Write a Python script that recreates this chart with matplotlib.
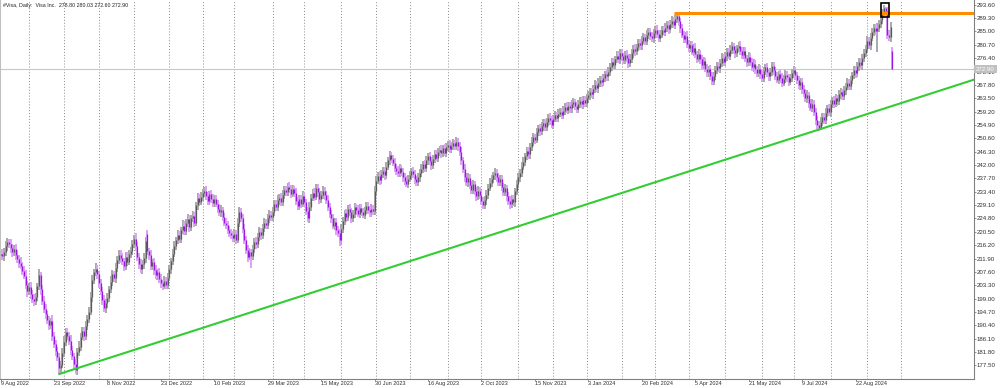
import numpy as np
import pandas as pd
import matplotlib
matplotlib.use('Agg')
import matplotlib.pyplot as plt
import matplotlib.transforms as mtransforms
from matplotlib.patches import Rectangle

# daily bars, 9 Aug 2022 .. 24 Sep 2024
opens = [
    213.0, 213.5, 212.6, 214.0, 215.8, 217.2, 216.5, 215.2, 214.0, 215.0,
    213.1, 211.8, 210.5, 209.6, 208.0, 206.3, 203.5, 201.4, 202.8, 200.5,
    199.0, 198.2, 199.6, 203.0, 206.5, 202.0, 198.4, 195.6, 194.0, 192.2,
    190.5, 191.8, 187.0, 184.5, 182.0, 180.3, 176.6, 177.8, 181.5, 185.0,
    188.2, 187.0, 185.5, 182.4, 180.5, 178.0, 176.2, 181.8, 183.5, 186.8,
    188.5, 187.0, 190.2, 192.5, 194.8, 199.5, 205.0, 207.5, 208.6, 206.8,
    204.0, 201.5, 198.5, 196.0, 197.5, 199.2, 202.0, 204.5, 206.8, 205.5,
    209.0, 211.5, 213.2, 212.0, 211.0, 209.5, 212.5, 210.8, 213.5, 214.2,
    216.5, 218.3, 215.8, 212.5, 210.2, 208.4, 210.0, 212.0, 219.8, 214.2,
    213.0, 209.5, 210.8, 208.2, 206.5, 207.5, 205.2, 204.0, 203.2, 204.8,
    203.5, 205.8, 208.4, 211.0, 213.5, 216.0, 217.8, 219.5, 218.2, 221.0,
    222.5, 220.8, 223.4, 224.6, 222.0, 224.8, 225.5, 223.5, 229.0, 231.5,
    230.2, 231.8, 233.0, 233.8, 232.0, 230.5, 232.6, 231.2, 229.8, 231.0,
    229.5, 228.0, 226.8, 227.5, 225.2, 223.5, 222.8, 221.0, 220.2, 219.4,
    218.5, 219.8, 218.0, 223.5, 226.8, 225.0, 221.5, 218.0, 214.8, 212.5,
    214.0, 212.8, 215.0, 217.2, 216.5, 218.8, 220.5, 219.4, 221.8, 223.5,
    222.6, 224.8, 226.0, 225.2, 227.0, 229.5, 228.4, 230.6, 231.5, 230.2,
    232.5, 234.0, 233.2, 235.0, 234.4, 232.8, 234.2, 233.0, 230.5, 228.8,
    231.2, 229.5, 232.0, 230.0, 227.2, 225.0, 228.5, 231.5, 233.0, 231.8,
    234.5, 233.2, 231.0, 232.5, 233.8, 232.2, 230.8, 228.5, 226.2, 224.8,
    222.5, 223.8, 221.0, 220.2, 218.0, 221.5, 224.0, 226.5, 225.2, 228.0,
    227.0, 224.8, 226.2, 228.5, 227.5, 226.4, 228.2, 227.0, 226.0, 227.5,
    228.8, 227.6, 226.8, 228.0, 227.2, 233.5, 237.0, 238.5, 237.2, 239.0,
    240.2, 238.8, 241.5, 243.5, 245.2, 244.0, 242.8, 241.0, 240.2, 239.5,
    241.0, 239.8, 238.2, 237.0, 236.0, 237.5, 238.8, 240.0, 239.0, 237.4,
    236.5, 238.0, 239.6, 240.8, 242.2, 241.0, 243.5, 244.8, 243.2, 242.0,
    244.0, 245.5, 244.4, 246.2, 247.0, 245.8, 247.5, 246.0, 247.8, 248.5,
    247.2, 248.0, 249.0, 248.2, 249.5, 248.0, 246.2, 243.5, 240.8, 238.0,
    236.5, 237.8, 235.5, 234.0, 235.8, 233.5, 232.0, 233.8, 232.5, 230.5,
    229.2, 230.8, 232.5, 234.6, 236.2, 237.5, 238.8, 239.5, 238.0, 236.4,
    237.5, 235.0, 233.2, 234.5, 232.0, 230.5, 229.4, 231.0, 230.0, 233.5,
    235.8, 238.0, 239.5, 241.5, 243.0, 244.8, 246.5, 245.5, 247.8, 249.5,
    251.0, 250.2, 252.5, 253.8, 252.8, 254.5, 255.5, 254.2, 256.0, 257.2,
    256.5, 255.0, 256.8, 258.0, 257.2, 258.5, 259.0, 258.2, 259.5, 260.8,
    259.8, 261.0, 260.2, 261.5, 262.2, 261.0, 260.0, 261.8, 262.5, 261.5,
    263.0, 262.0, 263.5, 264.5, 265.5, 264.8, 266.5, 267.8, 266.8, 268.5,
    269.5, 268.6, 270.0, 271.2, 270.5, 272.0, 273.5, 275.0, 274.2, 276.0,
    277.2, 276.0, 278.0, 277.0, 275.8, 277.5, 276.5, 274.8, 276.2, 278.0,
    279.5, 278.6, 280.0, 281.2, 280.5, 282.0, 283.2, 282.0, 283.8, 284.8,
    283.5, 282.8, 284.5, 285.6, 284.2, 283.0, 284.0, 285.5, 284.8, 286.2,
    287.0, 285.8, 287.5, 288.4, 287.2, 289.0, 290.0, 288.2, 286.0, 284.0,
    282.5, 283.6, 281.0, 279.8, 280.6, 278.5, 279.8, 277.6, 276.2, 277.8,
    276.0, 274.2, 275.5, 273.0, 271.8, 272.8, 270.5, 269.2, 270.8, 272.5,
    274.0, 273.2, 274.8, 276.5, 275.2, 277.0, 278.4, 277.2, 279.0, 280.2,
    279.0, 278.0, 279.6, 280.4, 278.8, 277.5, 278.6, 276.4, 275.0, 276.8,
    275.2, 273.5, 274.6, 272.8, 271.5, 273.0, 271.2, 270.0, 272.2, 273.5,
    271.8, 270.5, 272.0, 273.8, 272.5, 270.8, 269.5, 271.2, 270.0, 268.5,
    269.8, 271.0, 270.2, 268.8, 270.0, 271.5, 272.5, 271.0, 269.4, 267.8,
    268.6, 266.5, 265.2, 263.5, 264.5, 262.0, 260.5, 261.8, 259.0, 256.5,
    255.0, 254.0, 256.0, 257.5, 256.5, 258.8, 260.2, 259.0, 261.5, 262.8,
    261.8, 263.5, 262.5, 264.8, 265.5, 264.2, 266.0, 267.2, 268.5, 267.5,
    269.5, 271.0, 272.5, 271.5, 273.8, 275.0, 274.2, 276.5, 278.0, 279.5,
    282.0, 280.5, 283.0, 284.8, 286.0, 285.0, 286.2, 287.5, 288.8, 291.0,
    292.5, 291.5, 284.0, 283.2, 278.8,
]

closes = [
    213.5, 212.6, 214.0, 215.8, 217.2, 216.5, 215.2, 214.0, 215.0, 213.1,
    211.8, 210.5, 209.6, 208.0, 206.3, 203.5, 201.4, 202.8, 200.5, 199.0,
    198.2, 199.6, 203.0, 206.5, 202.0, 198.4, 195.6, 194.0, 192.2, 190.5,
    191.8, 187.0, 184.5, 182.0, 180.3, 176.6, 177.8, 181.5, 185.0, 188.2,
    187.0, 185.5, 182.4, 180.5, 178.0, 176.2, 181.8, 183.5, 186.8, 188.5,
    187.0, 190.2, 192.5, 194.8, 199.5, 205.0, 207.5, 208.6, 206.8, 204.0,
    201.5, 198.5, 196.0, 197.5, 199.2, 202.0, 204.5, 206.8, 205.5, 209.0,
    211.5, 213.2, 212.0, 211.0, 209.5, 212.5, 210.8, 213.5, 214.2, 216.5,
    218.3, 215.8, 212.5, 210.2, 208.4, 210.0, 212.0, 217.5, 214.2, 213.0,
    209.5, 210.8, 208.2, 206.5, 207.5, 205.2, 204.0, 203.2, 204.8, 203.5,
    205.8, 208.4, 211.0, 213.5, 216.0, 217.8, 219.5, 218.2, 221.0, 222.5,
    220.8, 223.4, 224.6, 222.0, 224.8, 225.5, 223.5, 229.0, 231.5, 230.2,
    231.8, 233.0, 233.8, 232.0, 230.5, 232.6, 231.2, 229.8, 231.0, 229.5,
    228.0, 226.8, 227.5, 225.2, 223.5, 222.8, 221.0, 220.2, 219.4, 218.5,
    219.8, 218.0, 223.5, 226.8, 225.0, 221.5, 218.0, 214.8, 212.5, 214.0,
    212.8, 215.0, 217.2, 216.5, 218.8, 220.5, 219.4, 221.8, 223.5, 222.6,
    224.8, 226.0, 225.2, 227.0, 229.5, 228.4, 230.6, 231.5, 230.2, 232.5,
    234.0, 233.2, 235.0, 234.4, 232.8, 234.2, 233.0, 230.5, 228.8, 231.2,
    229.5, 232.0, 230.0, 227.2, 225.0, 228.5, 231.5, 233.0, 231.8, 234.5,
    233.2, 231.0, 232.5, 233.8, 232.2, 230.8, 228.5, 226.2, 224.8, 222.5,
    223.8, 221.0, 220.2, 218.0, 221.5, 224.0, 226.5, 225.2, 228.0, 227.0,
    224.8, 226.2, 228.5, 227.5, 226.4, 228.2, 227.0, 226.0, 227.5, 228.8,
    227.6, 226.8, 228.0, 227.2, 233.5, 237.0, 238.5, 237.2, 239.0, 240.2,
    238.8, 241.5, 243.5, 245.2, 244.0, 242.8, 241.0, 240.2, 239.5, 241.0,
    239.8, 238.2, 237.0, 236.0, 237.5, 238.8, 240.0, 239.0, 237.4, 236.5,
    238.0, 239.6, 240.8, 242.2, 241.0, 243.5, 244.8, 243.2, 242.0, 244.0,
    245.5, 244.4, 246.2, 247.0, 245.8, 247.5, 246.0, 247.8, 248.5, 247.2,
    248.0, 249.0, 248.2, 249.5, 248.0, 246.2, 243.5, 240.8, 238.0, 236.5,
    237.8, 235.5, 234.0, 235.8, 233.5, 232.0, 233.8, 232.5, 230.5, 229.2,
    230.8, 232.5, 234.6, 236.2, 237.5, 238.8, 239.5, 238.0, 236.4, 237.5,
    235.0, 233.2, 234.5, 232.0, 230.5, 229.4, 231.0, 230.0, 233.5, 235.8,
    238.0, 239.5, 241.5, 243.0, 244.8, 246.5, 245.5, 247.8, 249.5, 251.0,
    250.2, 252.5, 253.8, 252.8, 254.5, 255.5, 254.2, 256.0, 257.2, 256.5,
    255.0, 256.8, 258.0, 257.2, 258.5, 259.0, 258.2, 259.5, 260.8, 259.8,
    261.0, 260.2, 261.5, 262.2, 261.0, 260.0, 261.8, 262.5, 261.5, 263.0,
    262.0, 263.5, 264.5, 265.5, 264.8, 266.5, 267.8, 266.8, 268.5, 269.5,
    268.6, 270.0, 271.2, 270.5, 272.0, 273.5, 275.0, 274.2, 276.0, 277.2,
    276.0, 278.0, 277.0, 275.8, 277.5, 276.5, 274.8, 276.2, 278.0, 279.5,
    278.6, 280.0, 281.2, 280.5, 282.0, 283.2, 282.0, 283.8, 284.8, 283.5,
    282.8, 284.5, 285.6, 284.2, 283.0, 284.0, 285.5, 284.8, 286.2, 287.0,
    285.8, 287.5, 288.4, 287.2, 289.0, 290.0, 288.2, 286.0, 284.0, 282.5,
    283.6, 281.0, 279.8, 280.6, 278.5, 279.8, 277.6, 276.2, 277.8, 276.0,
    274.2, 275.5, 273.0, 271.8, 272.8, 270.5, 269.2, 270.8, 272.5, 274.0,
    273.2, 274.8, 276.5, 275.2, 277.0, 278.4, 277.2, 279.0, 280.2, 279.0,
    278.0, 279.6, 280.4, 278.8, 277.5, 278.6, 276.4, 275.0, 276.8, 275.2,
    273.5, 274.6, 272.8, 271.5, 273.0, 271.2, 270.0, 272.2, 273.5, 271.8,
    270.5, 272.0, 273.8, 272.5, 270.8, 269.5, 271.2, 270.0, 268.5, 269.8,
    271.0, 270.2, 268.8, 270.0, 271.5, 272.5, 271.0, 269.4, 267.8, 268.6,
    266.5, 265.2, 263.5, 264.5, 262.0, 260.5, 261.8, 259.0, 256.5, 255.0,
    254.0, 256.0, 257.5, 256.5, 258.8, 260.2, 259.0, 261.5, 262.8, 261.8,
    263.5, 262.5, 264.8, 265.5, 264.2, 266.0, 267.2, 268.5, 267.5, 269.5,
    271.0, 272.5, 271.5, 273.8, 275.0, 274.2, 276.5, 278.0, 279.5, 282.0,
    280.5, 283.0, 284.8, 286.0, 285.0, 286.2, 287.5, 288.8, 291.0, 292.5,
    291.5, 284.0, 283.2, 286.5, 272.9,
]

# wick lengths above the body top / below the body bottom
upper_wick = [
    1.2, 1.5, 1.3, 1.7, 1.3, 1.1, 1.6, 1.4, 1.2, 1.6,
    1.4, 1.1, 1.8, 1.2, 1.5, 2.0, 1.1, 1.3, 1.6, 1.2,
    1.6, 1.3, 1.2, 1.9, 1.1, 1.4, 1.5, 1.7, 1.0, 1.3,
    1.1, 1.8, 1.4, 1.2, 1.6, 1.3, 1.1, 1.5, 1.9, 1.4,
    1.5, 1.2, 1.7, 1.3, 1.1, 1.6, 1.4, 1.8, 1.2, 1.5,
    1.3, 1.6, 1.1, 1.4, 1.7, 1.5, 1.2, 1.9, 1.3, 1.1,
    1.4, 1.2, 1.6, 1.3, 1.5, 1.1, 1.8, 1.4, 1.2, 1.6,
    1.2, 1.5, 1.3, 1.7, 1.1, 1.4, 1.6, 1.2, 1.5, 1.3,
    1.2, 1.7, 1.4, 1.1, 1.5, 1.3, 1.6, 1.4, 1.3, 1.2,
    1.5, 1.1, 1.4, 1.6, 1.2, 1.3, 1.7, 1.1, 1.4, 1.2,
    1.3, 1.5, 1.2, 1.4, 1.6, 1.1, 1.5, 1.3, 1.2, 1.7,
    1.4, 1.2, 1.5, 1.3, 1.1, 1.6, 1.4, 1.2, 1.5, 1.3,
    1.6, 1.3, 1.2, 1.5, 1.4, 1.1, 1.3, 1.6, 1.2, 1.4,
    1.2, 1.4, 1.6, 1.1, 1.3, 1.5, 1.2, 1.4, 1.1, 1.3,
    1.5, 1.2, 1.4, 1.7, 1.3, 1.1, 1.5, 1.2, 1.4, 1.3,
    1.1, 1.4, 1.3, 1.5, 1.2, 1.6, 1.3, 1.1, 1.4, 1.2,
    1.3, 1.5, 1.1, 1.4, 1.2, 1.3, 1.6, 1.2, 1.4, 1.5,
    1.4, 1.2, 1.3, 1.5, 1.1, 1.4, 1.2, 1.6, 1.3, 1.1,
    1.2, 1.5, 1.4, 1.1, 1.3, 1.6, 1.2, 1.4, 1.5, 1.3,
    1.5, 1.3, 1.2, 1.4, 1.1, 1.3, 1.5, 1.2, 1.4, 1.6,
    1.3, 1.1, 1.4, 1.2, 1.5, 1.3, 1.1, 1.4, 1.2, 1.5,
    1.2, 1.4, 1.3, 1.1, 1.5, 1.2, 1.4, 1.3, 1.1, 1.4,
    1.4, 1.2, 1.5, 1.3, 1.6, 1.4, 1.2, 1.5, 1.3, 1.2,
    1.3, 1.5, 1.2, 1.4, 1.1, 1.3, 1.5, 1.2, 1.4, 1.3,
    1.1, 1.4, 1.3, 1.5, 1.2, 1.4, 1.1, 1.3, 1.5, 1.2,
    1.4, 1.2, 1.5, 1.1, 1.3, 1.4, 1.2, 1.5, 1.3, 1.1,
    1.2, 1.3, 1.4, 1.2, 1.5, 1.1, 1.3, 1.4, 1.2, 1.5,
    1.3, 1.5, 1.1, 1.4, 1.2, 1.3, 1.5, 1.2, 1.4, 1.3,
    1.5, 1.2, 1.4, 1.3, 1.1, 1.5, 1.3, 1.2, 1.4, 1.1,
    1.2, 1.4, 1.3, 1.5, 1.2, 1.1, 1.4, 1.3, 1.5, 1.2,
    1.4, 1.1, 1.5, 1.2, 1.3, 1.4, 1.2, 1.5, 1.1, 1.3,
    1.3, 1.2, 1.4, 1.5, 1.1, 1.3, 1.4, 1.2, 1.5, 1.2,
    1.1, 1.4, 1.2, 1.3, 1.5, 1.2, 1.4, 1.1, 1.3, 1.4,
    1.2, 1.3, 1.5, 1.1, 1.4, 1.2, 1.3, 1.5, 1.2, 1.4,
    1.4, 1.2, 1.3, 1.5, 1.1, 1.4, 1.2, 1.3, 1.5, 1.1,
    1.3, 1.5, 1.2, 1.4, 1.3, 1.1, 1.5, 1.2, 1.4, 1.3,
    1.2, 1.4, 1.1, 1.3, 1.5, 1.2, 1.4, 1.3, 1.1, 1.5,
    1.5, 1.2, 1.4, 1.1, 1.3, 1.5, 1.2, 1.4, 1.3, 1.2,
    1.3, 1.1, 1.5, 1.2, 1.4, 1.3, 1.1, 1.5, 1.2, 1.4,
    1.2, 1.4, 1.3, 1.5, 1.1, 1.3, 1.4, 1.2, 1.5, 1.3,
    1.4, 1.2, 1.5, 1.3, 1.2, 0.8, 0.5, 1.1, 1.5, 1.2,
    1.1, 1.5, 1.2, 1.4, 1.3, 1.1, 1.5, 1.2, 1.4, 1.3,
    1.5, 1.3, 1.1, 1.4, 1.2, 1.5, 1.3, 1.2, 1.4, 1.1,
    1.2, 1.4, 1.5, 1.1, 1.3, 1.4, 1.2, 1.5, 1.3, 1.2,
    1.4, 1.1, 1.3, 1.5, 1.2, 1.3, 1.4, 1.1, 1.5, 1.2,
    1.3, 1.5, 1.2, 1.1, 1.4, 1.2, 1.5, 1.3, 1.1, 1.4,
    1.2, 1.3, 1.4, 1.5, 1.1, 1.3, 1.2, 1.4, 1.5, 1.2,
    1.5, 1.2, 1.1, 1.4, 1.3, 1.5, 1.2, 1.1, 1.4, 1.3,
    1.3, 1.4, 1.2, 1.5, 1.1, 1.3, 1.4, 1.2, 1.5, 1.3,
    1.2, 1.5, 1.3, 1.1, 1.4, 1.2, 1.5, 1.3, 1.2, 1.4,
    1.4, 1.2, 1.5, 1.3, 1.1, 1.4, 1.2, 1.5, 1.3, 1.2,
    1.1, 1.4, 1.3, 1.2, 1.5, 1.3, 1.1, 1.4, 1.2, 1.5,
    1.3, 1.5, 1.2, 1.4, 1.3, 1.5, 1.2, 1.4, 1.3, 1.0,
    0.3, 1.2, 1.3, 1.4, 1.23,
]

lower_wick = [
    1.4, 1.2, 1.6, 1.3, 1.5, 1.1, 1.4, 1.7, 1.2, 1.5,
    1.3, 1.6, 1.2, 1.5, 1.1, 1.4, 1.8, 1.2, 1.5, 1.3,
    1.5, 1.2, 1.4, 1.1, 1.7, 1.3, 1.2, 1.6, 1.4, 1.5,
    1.2, 1.5, 1.3, 1.6, 1.4, 2.0, 1.5, 1.2, 1.4, 1.3,
    1.4, 1.3, 1.5, 1.2, 1.6, 1.4, 1.8, 1.3, 1.5, 1.2,
    1.5, 1.2, 1.4, 1.3, 1.1, 1.5, 1.3, 1.2, 1.4, 1.6,
    1.3, 1.5, 1.2, 1.6, 1.4, 1.2, 1.3, 1.5, 1.1, 1.4,
    1.4, 1.2, 1.5, 1.3, 1.6, 1.2, 1.4, 1.1, 1.5, 1.3,
    1.2, 1.4, 1.3, 1.5, 1.2, 1.6, 1.3, 1.4, 1.2, 1.5,
    1.4, 1.3, 1.5, 1.2, 1.4, 1.1, 1.5, 1.3, 1.2, 1.4,
    1.5, 1.2, 1.4, 1.3, 1.1, 1.5, 1.2, 1.4, 1.3, 1.2,
    1.3, 1.4, 1.2, 1.5, 1.3, 1.1, 1.4, 1.2, 1.5, 1.3,
    1.2, 1.5, 1.3, 1.1, 1.4, 1.3, 1.5, 1.2, 1.4, 1.1,
    1.4, 1.2, 1.5, 1.3, 1.2, 1.4, 1.1, 1.5, 1.3, 1.4,
    1.3, 1.5, 1.1, 1.4, 1.2, 1.5, 1.3, 1.4, 1.6, 1.2,
    4.0, 1.4, 1.2, 1.5, 1.3, 1.1, 1.4, 1.2, 1.5, 1.3,
    1.2, 1.4, 1.3, 1.1, 1.5, 1.3, 1.2, 1.4, 1.3, 1.5,
    1.4, 1.3, 1.2, 1.5, 1.4, 1.1, 1.3, 1.5, 1.2, 1.4,
    1.3, 1.1, 1.5, 1.4, 1.2, 1.5, 1.3, 1.1, 1.4, 1.2,
    1.5, 1.4, 1.2, 1.3, 1.5, 1.2, 1.4, 1.3, 1.5, 1.2,
    1.3, 1.5, 1.2, 2.0, 1.4, 1.3, 1.2, 1.5, 1.1, 1.4,
    1.4, 1.2, 1.3, 1.5, 1.1, 1.4, 1.3, 1.2, 1.5, 1.3,
    1.2, 1.4, 1.5, 1.3, 1.2, 1.4, 1.1, 1.5, 1.3, 1.2,
    1.5, 1.3, 1.1, 1.4, 1.5, 1.2, 1.3, 1.4, 1.2, 1.5,
    1.3, 1.5, 1.4, 1.2, 1.3, 1.1, 1.5, 1.2, 1.4, 1.3,
    1.2, 1.4, 1.3, 1.5, 1.1, 1.3, 1.4, 1.2, 1.5, 1.4,
    1.4, 1.2, 1.5, 1.3, 1.4, 1.2, 1.1, 1.5, 1.3, 1.2,
    1.3, 1.1, 1.4, 1.2, 1.5, 1.3, 1.4, 1.2, 1.5, 1.4,
    1.5, 1.3, 1.2, 1.4, 1.3, 1.5, 1.1, 1.4, 1.2, 1.5,
    1.2, 1.5, 1.4, 1.1, 1.3, 1.2, 1.5, 1.4, 1.3, 1.2,
    1.4, 1.3, 1.2, 1.5, 1.4, 1.5, 1.3, 1.1, 1.4, 1.2,
    1.3, 1.4, 1.5, 1.2, 1.3, 1.1, 1.4, 1.5, 1.2, 1.3,
    1.5, 1.2, 1.3, 1.4, 1.1, 1.5, 1.2, 1.3, 1.4, 1.5,
    1.2, 1.4, 1.1, 1.5, 1.3, 1.2, 1.4, 1.3, 1.5, 1.2,
    1.4, 1.5, 1.3, 1.2, 1.4, 1.3, 1.1, 1.5, 1.2, 1.4,
    1.3, 1.2, 1.4, 1.5, 1.1, 1.4, 1.3, 1.2, 1.5, 1.3,
    1.5, 1.3, 1.2, 1.4, 1.3, 1.5, 1.1, 1.4, 1.2, 1.3,
    1.2, 1.4, 1.5, 1.3, 1.2, 1.4, 1.5, 1.1, 1.3, 1.4,
    1.4, 1.2, 1.3, 1.5, 1.4, 1.1, 1.3, 1.5, 1.2, 1.4,
    1.3, 1.5, 1.2, 1.4, 1.3, 1.5, 1.2, 1.1, 1.4, 1.3,
    1.5, 1.3, 1.4, 1.2, 1.5, 1.3, 1.4, 1.5, 1.2, 1.3,
    1.2, 1.4, 1.5, 1.3, 1.1, 1.4, 1.3, 1.5, 1.2, 1.4,
    1.4, 1.3, 1.2, 1.5, 1.4, 1.2, 1.5, 1.3, 1.4, 1.2,
    1.3, 1.5, 1.4, 1.2, 1.3, 1.4, 1.1, 1.5, 1.3, 1.4,
    1.5, 1.2, 1.3, 1.4, 1.5, 1.3, 1.2, 1.4, 1.1, 1.3,
    1.2, 1.4, 1.5, 1.3, 1.2, 1.5, 1.4, 1.3, 1.2, 1.4,
    1.4, 1.3, 1.2, 1.5, 1.4, 1.1, 1.3, 1.5, 1.4, 1.2,
    1.3, 1.5, 1.4, 1.2, 1.3, 1.4, 1.5, 1.2, 1.3, 1.5,
    1.5, 1.2, 1.3, 1.4, 1.5, 1.2, 1.4, 1.3, 1.5, 1.4,
    1.0, 0.7, 1.5, 1.2, 1.4, 1.3, 1.2, 1.5, 1.3, 1.4,
    1.2, 1.4, 1.3, 1.5, 1.2, 1.4, 1.3, 1.1, 1.5, 1.3,
    1.4, 1.2, 1.5, 1.3, 1.4, 1.2, 1.5, 1.3, 1.2, 1.4,
    1.3, 1.5, 1.2, 1.4, 1.3, 6.6, 1.4, 1.3, 1.5, 1.2,
    1.4, 1.3, 1.2, 1.5, 0.3,
]

# exchange holidays, used to rebuild the trading-day calendar
holidays = ['2022-09-05', '2022-11-24', '2022-12-26', '2023-01-02', '2023-01-16',
            '2023-02-20', '2023-04-07', '2023-05-29', '2023-06-19', '2023-07-04',
            '2023-09-04', '2023-11-23', '2023-12-25', '2024-01-01', '2024-01-15',
            '2024-02-19', '2024-03-29', '2024-05-27', '2024-06-19', '2024-07-04',
            '2024-09-02']

last_price = 272.90
resistance = 290.8
resistance_from = 403
trend_x = [35.2, 582.6]
trend_y = [174.76, 269.43]
box_x = [527.1, 532.2]
box_y = [289.55, 294.24]
title = '#Visa, Daily:  Visa Inc.  278.80 280.03 272.60 272.90'

plt.rcParams['font.family'] = ['Liberation Sans', 'DejaVu Sans']

dates = pd.bdate_range('2022-08-09', '2024-10-10')
dates = dates[~dates.isin(pd.to_datetime(holidays))]

o = np.array(opens)
c = np.array(closes)
h = np.maximum(o, c) + np.array(upper_wick)
l = np.minimum(o, c) - np.array(lower_wick)
x = np.arange(len(c))
up = c >= o

fig = plt.figure(figsize=(10, 3.88), dpi=100)
ax = fig.add_axes([0, 9.5 / 388, 973.5 / 1000, 378.5 / 388])
ax.set_xlim(-0.3, 582.6)
ax.set_ylim(173.31, 295.11)

# month separators
month_starts = [i for i in range(1, len(dates)) if dates[i].month != dates[i - 1].month]
ax.vlines(month_starts, 173.31, 295.11, colors='#8a8a8a', linestyles=(0, (1, 2)), lw=0.7, zorder=0)

ax.axhline(last_price, color='#c8c8c8', lw=0.8, zorder=1)

# candles: light wick/outline, darker body
ax.vlines(x[up], l[up], h[up], colors='#a8a8a8', lw=1.4, zorder=2)
ax.vlines(x[~up], l[~up], h[~up], colors='#dba2f5', lw=1.4, zorder=2)
ax.vlines(x[up], o[up], c[up], colors='#5a5a5a', lw=0.9, zorder=3)
ax.vlines(x[~up], c[~up], o[~up], colors='#9a14e6', lw=0.9, zorder=3)

ax.plot([resistance_from, 582.6], [resistance, resistance], color='#ff8c00', lw=2.2, solid_capstyle='butt', zorder=4)
ax.plot(trend_x, trend_y, color='#32cd32', lw=1.5, zorder=4)
ax.add_patch(Rectangle((box_x[0], box_y[0]), box_x[1] - box_x[0], box_y[1] - box_y[0],
                       fill=False, ec='black', lw=1.2, zorder=5))

ax.text(0.003, 1 - 5 / 378.5, title, transform=ax.transAxes, fontsize=3.8,
        color='#202020', va='center', ha='left')

# axes styling
ax.spines['top'].set_visible(False)
ax.spines['left'].set_color('#c0c0c0')
ax.spines['bottom'].set_color('#808080')
ax.spines['right'].set_color('#808080')
for s in ax.spines.values():
    s.set_linewidth(0.8)

ax.yaxis.tick_right()
yt = np.arange(177.5, 293.7, 4.3)
ax.set_yticks(yt)
ax.set_yticklabels(['%.2f' % v for v in yt])
ax.tick_params(axis='y', length=1.5, width=0.6, color='#808080', pad=0.8,
               labelsize=4.4, labelcolor='#303030')

xt = list(range(0, len(c), 32))
ax.set_xticks(xt)
ax.set_xticklabels(['%d %s' % (dates[i].day, dates[i].strftime('%b %Y')) for i in xt])
plt.setp(ax.get_xticklabels(), ha='left')
ax.tick_params(axis='x', length=1.5, width=0.6, color='#808080', pad=0.5,
               labelsize=4.0, labelcolor='#303030')

trans = mtransforms.blended_transform_factory(ax.transAxes, ax.transData)
ax.text(1.0025, last_price, '%.2f' % last_price, transform=trans, fontsize=4.4,
        color='white', ha='left', va='center', zorder=10, clip_on=False,
        bbox=dict(boxstyle='square,pad=0.3', fc='#c0c0c0', ec='none'))

fig.savefig('out.png', dpi=100, facecolor='white')
